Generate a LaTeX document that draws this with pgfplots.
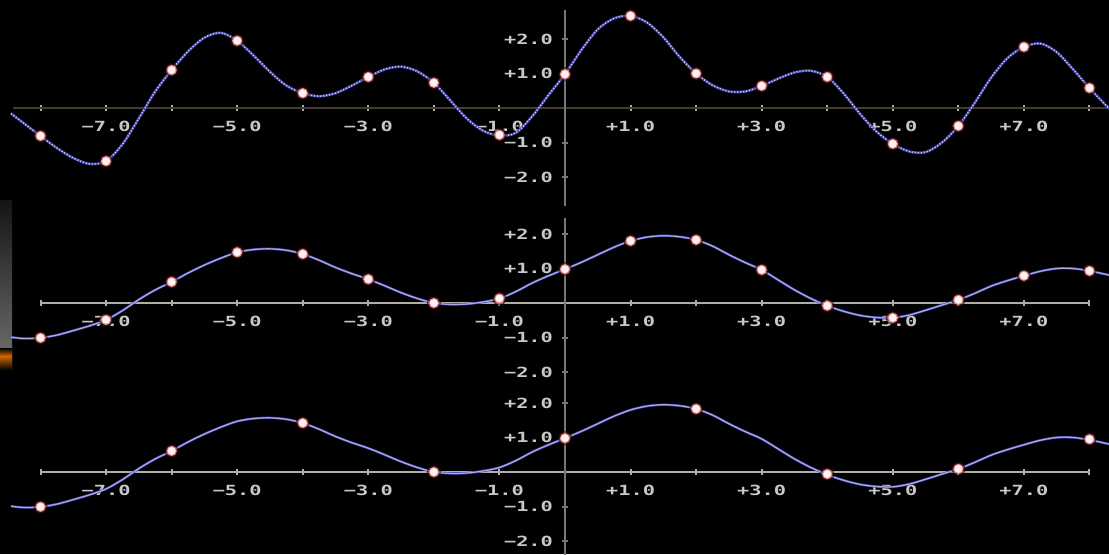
\documentclass[border=0pt]{standalone}
\usepackage{pgfplots}
\usepackage{pgfplotstable}
\pgfplotsset{compat=1.18}
\usepackage{fontspec}
\newfontfamily\tickfont[FakeStretch=1.45]{DejaVu Sans Mono}
\definecolor{curvedark}{RGB}{70,70,175}
\definecolor{curvelight}{RGB}{200,200,245}
\definecolor{lowcurve}{RGB}{170,170,235}
\definecolor{ptfill}{RGB}{255,242,242}
\definecolor{ptdraw}{RGB}{225,140,140}
\definecolor{pthalo}{RGB}{120,25,25}
\definecolor{axisgray}{RGB}{120,120,120}
\definecolor{axisolive}{RGB}{70,60,45}
\definecolor{axislight}{RGB}{175,175,165}
\definecolor{labelgray}{RGB}{200,200,200}

\pgfplotstableread{
x y
-8.45 -0.16
-8.25 -0.45
-8.0 -0.81
-7.75 -1.16
-7.5 -1.45
-7.25 -1.62
-7.0 -1.54
-6.75 -1.05
-6.5 -0.30
-6.25 0.48
-6.0 1.10
-5.75 1.64
-5.5 2.04
-5.25 2.18
-5.0 1.95
-4.75 1.52
-4.5 1.05
-4.25 0.65
-4.0 0.43
-3.75 0.34
-3.5 0.43
-3.25 0.65
-3.0 0.90
-2.75 1.12
-2.5 1.20
-2.25 1.06
-2.0 0.73
-1.75 0.22
-1.5 -0.30
-1.25 -0.66
-1.0 -0.80
-0.75 -0.72
-0.5 -0.24
-0.25 0.38
0.0 0.98
0.25 1.68
0.5 2.28
0.75 2.60
1.0 2.67
1.25 2.48
1.5 2.05
1.75 1.48
2.0 1.00
2.25 0.66
2.5 0.48
2.75 0.48
3.0 0.64
3.25 0.85
3.5 1.03
3.75 1.08
4.0 0.90
4.25 0.42
4.5 -0.17
4.75 -0.68
5.0 -1.04
5.25 -1.26
5.5 -1.28
5.75 -1.00
6.0 -0.52
6.25 0.15
6.5 0.88
6.75 1.45
7.0 1.77
7.25 1.87
7.5 1.62
7.75 1.12
8.0 0.58
8.25 0.08
8.4 -0.18
}\topcurve

\pgfplotstableread{
x y
-8 -0.81
-7 -1.54
-6 1.10
-5 1.95
-4 0.43
-3 0.90
-2 0.73
-1 -0.78
0 0.98
1 2.67
2 1.00
3 0.64
4 0.90
5 -1.04
6 -0.52
7 1.77
8 0.58
}\toppts

\pgfplotstableread{
x y
-8.45 -0.99
-8.25 -1.03
-8.0 -1.01
-7.75 -0.93
-7.5 -0.80
-7.25 -0.66
-7.0 -0.49
-6.75 -0.22
-6.5 0.10
-6.25 0.38
-6.0 0.61
-5.75 0.87
-5.5 1.10
-5.25 1.30
-5.0 1.47
-4.75 1.55
-4.5 1.57
-4.25 1.53
-4.0 1.42
-3.75 1.24
-3.5 1.03
-3.25 0.85
-3.0 0.69
-2.75 0.50
-2.5 0.30
-2.25 0.13
-2.0 0.00
-1.75 -0.04
-1.5 -0.03
-1.25 0.03
-1.0 0.13
-0.75 0.33
-0.5 0.58
-0.25 0.79
0.0 0.98
0.25 1.18
0.5 1.40
0.75 1.62
1.0 1.80
1.25 1.91
1.5 1.95
1.75 1.92
2.0 1.83
2.25 1.65
2.5 1.40
2.75 1.17
3.0 0.96
3.25 0.67
3.5 0.38
3.75 0.13
4.0 -0.08
4.25 -0.24
4.5 -0.36
4.75 -0.42
5.0 -0.43
5.25 -0.35
5.5 -0.21
5.75 -0.06
6.0 0.09
6.25 0.28
6.5 0.49
6.75 0.65
7.0 0.79
7.25 0.92
7.5 1.00
7.75 1.00
8.0 0.93
8.25 0.83
8.4 0.76
}\lowcurve

\pgfplotstableread{
x y
-8 -1.01
-7 -0.49
-6 0.61
-5 1.47
-4 1.42
-3 0.69
-2 0.00
-1 0.13
0 0.98
1 1.80
2 1.83
3 0.96
4 -0.08
5 -0.43
6 0.09
7 0.79
8 0.93
}\midpts

\pgfplotstableread{
x y
-8 -1.01
-6 0.61
-4 1.42
-2 0.00
0 0.98
2 1.83
4 -0.06
6 0.09
8 0.95
}\botpts

\pgfplotsset{
  panel/.style={
    x=32.78pt, y=17.25pt,
    anchor=origin,
    axis lines=middle,
    axis line style={-, line width=0.9pt},
    y axis line style={draw=axisgray},
    clip=false,
    xtick={-8,-7,...,8},
    xticklabels={{},{−7.0},{},{−5.0},{},{−3.0},{},{−1.0},{},{+1.0},{},{+3.0},{},{+5.0},{},{+7.0},{}},
    ytick={-2,-1,1,2},
    yticklabels={{−2.0},{−1.0},{+1.0},{+2.0}},
    major tick length=3pt,
    tick align=center,
    xtick style={draw=axislight, line width=1pt},
    ytick style={draw=axisgray, line width=1pt},
    ticklabel style={font=\tickfont\bfseries\fontsize{7}{8}\selectfont, text=labelgray},
    xticklabel style={yshift=-1.5pt},
    yticklabel style={xshift=-1pt},
  },
  halostyle/.style={only marks, mark=*, mark size=3.3pt,
    mark options={fill=pthalo, draw=none, opacity=0.55}},
  ptstyle/.style={only marks, mark=*, mark size=2.3pt,
    mark options={fill=ptfill, draw=ptdraw, line width=0.5pt}},
}

\begin{document}
\begin{tikzpicture}
\path[use as bounding box] (0pt,0pt) rectangle (554.5pt,277pt);
\fill[black] (0pt,0pt) rectangle (554.5pt,277pt);
\clip (0pt,0pt) rectangle (554.5pt,277pt);
\shade[top color=black!92!white, bottom color=black!55!white] (0pt,92pt) rectangle (6pt,177pt);
\shade[top color=black, bottom color=orange!80!black] (0pt,99pt) rectangle (6pt,103pt);
\shade[top color=orange!80!black, bottom color=black] (0pt,92pt) rectangle (6pt,99pt);

% top panel
\begin{axis}[panel, at={(282.5pt,223pt)},
  xmin=-8.42, xmax=8.3, ymin=-2.85, ymax=2.85,
  x axis line style={draw=axisolive}]
\addplot[smooth, draw=curvedark, line width=1.3pt] table {\topcurve};
\addplot[smooth, draw=curvelight, line width=0.7pt, dash pattern=on 0.6pt off 0.9pt] table {\topcurve};
\addplot[halostyle] table {\toppts};
\addplot[ptstyle] table {\toppts};
\end{axis}

% middle panel
\begin{axis}[panel, at={(282.5pt,125.5pt)},
  xmin=-8, xmax=8, ymin=-2.45, ymax=2.45,
  x axis line style={draw=axislight}]
\addplot[smooth, draw=curvedark, line width=1.2pt] table {\lowcurve};
\addplot[smooth, draw=lowcurve, line width=0.6pt] table {\lowcurve};
\addplot[halostyle] table {\midpts};
\addplot[ptstyle] table {\midpts};
\end{axis}

% bottom panel
\begin{axis}[panel, at={(282.5pt,41pt)},
  xmin=-8, xmax=8, ymin=-2.4, ymax=2.5,
  x axis line style={draw=axislight}]
\addplot[smooth, draw=curvedark, line width=1.2pt] table {\lowcurve};
\addplot[smooth, draw=lowcurve, line width=0.6pt] table {\lowcurve};
\addplot[halostyle] table {\botpts};
\addplot[ptstyle] table {\botpts};
\end{axis}
\end{tikzpicture}
\end{document}
